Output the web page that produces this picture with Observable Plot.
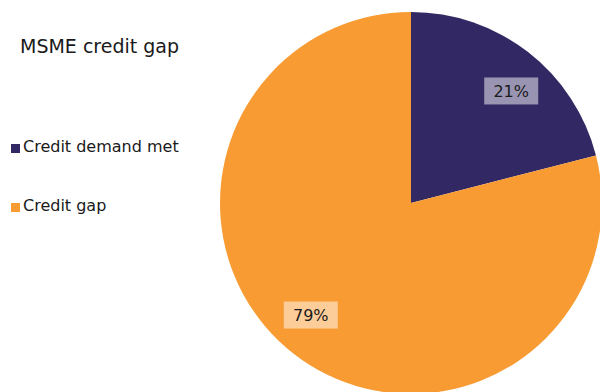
<!DOCTYPE html>
<html>
<head>
<meta charset="utf-8">
<script src="https://cdn.jsdelivr.net/npm/d3@7"></script>
<script src="https://cdn.jsdelivr.net/npm/@observablehq/plot@0.6"></script>
<style>
  html, body { margin: 0; padding: 0; background: #fff; }
  #wrap { position: relative; width: 600px; height: 392px; overflow: hidden; font-family: "DejaVu Sans", Verdana, sans-serif; }
  #chart { position: absolute; left: 0; top: 0; }
  #title { position: absolute; left: 20px; top: 35px; font-size: 19px; color: #1a1a1a; white-space: nowrap; }
  .leg { position: absolute; left: 11px; font-size: 16px; color: #1a1a1a; white-space: nowrap; display: flex; align-items: center; }
  .sw { display: inline-block; width: 9px; height: 9px; margin-right: 3px; margin-top: 3px; }
</style>
</head>
<body>
<div id="wrap">
  <div id="chart"></div>
  <div id="title">MSME credit gap</div>
  <div id="legend"></div>
</div>
<script>
const categories = ["Credit demand met", "Credit gap"];
const values = [21, 79];
const labels = ["21%", "79%"];
const colors = ["#322863", "#f89b33"];
const title = "MSME credit gap";

const slices = categories.map((c, i) => ({category: c, value: values[i], label: labels[i]}));
const arcs = d3.pie().sort(null).value(d => d.value)(slices);

function pieMark(index, scales, vals, dims, context) {
  const cx = scales.x(0), cy = scales.y(0);
  const r = scales.x(1) - scales.x(0);
  const arc = d3.arc().innerRadius(0).outerRadius(r);
  const lr = r * 0.787, shift = 0.07;
  const g = d3.create("svg:g").attr("transform", `translate(${cx},${cy})`);
  g.selectAll("path").data(arcs).join("path")
    .attr("d", arc)
    .attr("fill", d => scales.color(d.data.category));
  const lg = g.selectAll("g.lbl").data(arcs).join("g")
    .attr("transform", d => {
      const a = (d.startAngle + d.endAngle) / 2 + shift;
      return `translate(${lr * Math.sin(a)},${-lr * Math.cos(a)})`;
    });
  lg.append("rect")
    .attr("x", -27).attr("y", -13.5).attr("width", 54).attr("height", 27)
    .attr("fill", "#fff").attr("fill-opacity", 0.5);
  lg.append("text")
    .attr("text-anchor", "middle").attr("dy", "0.36em")
    .attr("font-family", "'DejaVu Sans', Verdana, sans-serif")
    .attr("font-size", 16).attr("fill", "#1a1a1a")
    .text(d => d.data.label);
  return g.node();
}

const plot = Plot.plot({
  width: 600,
  height: 392,
  margin: 0,
  x: {domain: [-1, 1], range: [220, 602], axis: null},
  y: {domain: [-1, 1], range: [394, 12], axis: null},
  color: {domain: categories, range: colors},
  style: {background: "transparent"},
  marks: [
    Plot.dot(slices, {x: () => 0, y: () => 0, fill: "category", r: 0}),
    pieMark
  ]
});
document.getElementById("chart").append(plot);

const legend = document.getElementById("legend");
const tops = [137, 196];
categories.forEach((c, i) => {
  const d = document.createElement("div");
  d.className = "leg";
  d.style.top = tops[i] + "px";
  const sw = document.createElement("span");
  sw.className = "sw";
  sw.style.background = colors[i];
  d.append(sw, document.createTextNode(c));
  legend.append(d);
});
</script>
</body>
</html>
